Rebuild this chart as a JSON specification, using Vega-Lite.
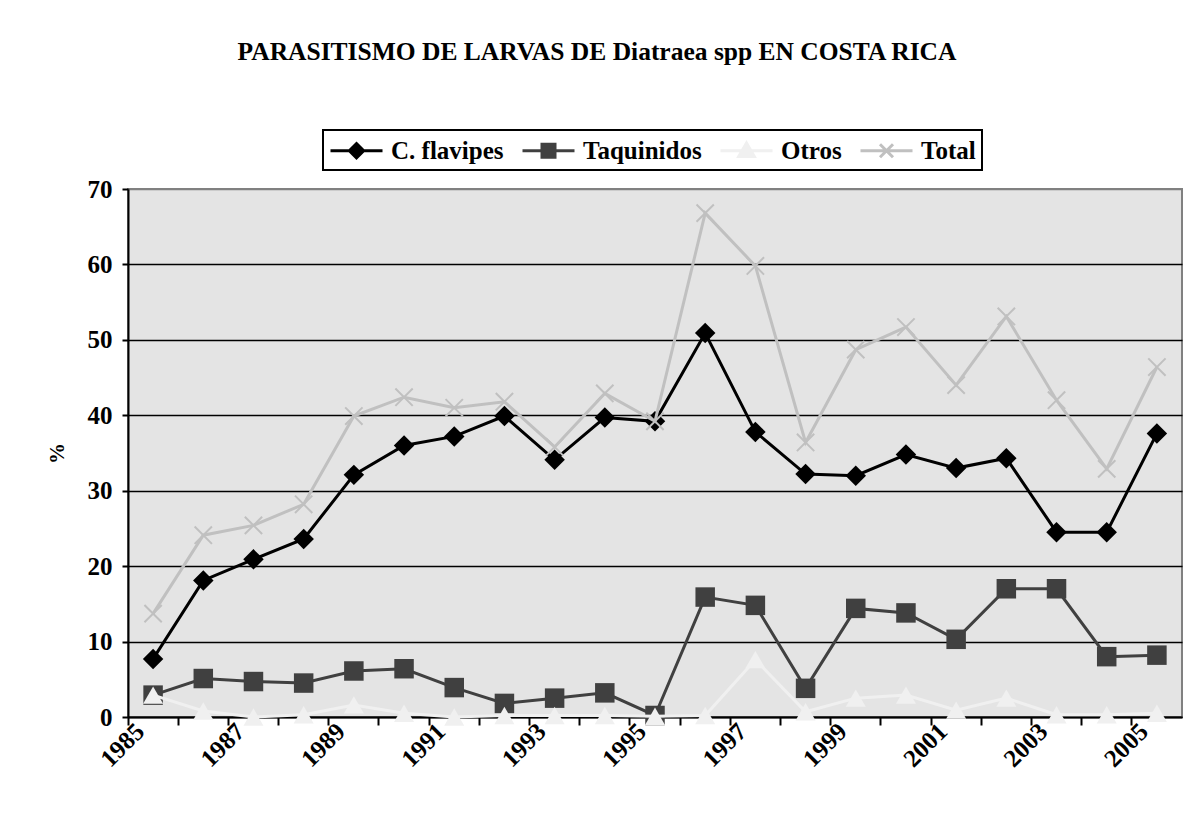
{
  "$schema": "https://vega.github.io/schema/vega-lite/v6.json",
  "width": 1054,
  "height": 528,
  "autosize": {"type": "none"},
  "padding": {"left": 128, "top": 189, "right": 14, "bottom": 108},
  "background": "white",
  "title": {
    "text": "PARASITISMO DE LARVAS DE Diatraea spp EN COSTA RICA",
    "font": "Liberation Serif",
    "fontSize": 25.5,
    "fontWeight": "bold",
    "color": "black",
    "anchor": "middle",
    "frame": "group",
    "offset": 64,
    "dx": -58
  },
  "config": {
    "view": {"fill": "#e4e4e4", "stroke": "#808080", "strokeWidth": 2}
  },
  "data": {
    "values": [
      {"year": 1985, "series": "C. flavipes", "value": 7.7},
      {"year": 1986, "series": "C. flavipes", "value": 18.1},
      {"year": 1987, "series": "C. flavipes", "value": 20.9},
      {"year": 1988, "series": "C. flavipes", "value": 23.6},
      {"year": 1989, "series": "C. flavipes", "value": 32.1},
      {"year": 1990, "series": "C. flavipes", "value": 36.0},
      {"year": 1991, "series": "C. flavipes", "value": 37.2},
      {"year": 1992, "series": "C. flavipes", "value": 39.9},
      {"year": 1993, "series": "C. flavipes", "value": 34.1},
      {"year": 1994, "series": "C. flavipes", "value": 39.7},
      {"year": 1995, "series": "C. flavipes", "value": 39.2},
      {"year": 1996, "series": "C. flavipes", "value": 50.9},
      {"year": 1997, "series": "C. flavipes", "value": 37.8},
      {"year": 1998, "series": "C. flavipes", "value": 32.2},
      {"year": 1999, "series": "C. flavipes", "value": 32.0},
      {"year": 2000, "series": "C. flavipes", "value": 34.8},
      {"year": 2001, "series": "C. flavipes", "value": 33.0},
      {"year": 2002, "series": "C. flavipes", "value": 34.3},
      {"year": 2003, "series": "C. flavipes", "value": 24.5},
      {"year": 2004, "series": "C. flavipes", "value": 24.5},
      {"year": 2005, "series": "C. flavipes", "value": 37.6},
      {"year": 1985, "series": "Taquinidos", "value": 2.9},
      {"year": 1986, "series": "Taquinidos", "value": 5.1},
      {"year": 1987, "series": "Taquinidos", "value": 4.7},
      {"year": 1988, "series": "Taquinidos", "value": 4.5},
      {"year": 1989, "series": "Taquinidos", "value": 6.1},
      {"year": 1990, "series": "Taquinidos", "value": 6.4},
      {"year": 1991, "series": "Taquinidos", "value": 3.9},
      {"year": 1992, "series": "Taquinidos", "value": 1.8},
      {"year": 1993, "series": "Taquinidos", "value": 2.5},
      {"year": 1994, "series": "Taquinidos", "value": 3.2},
      {"year": 1995, "series": "Taquinidos", "value": 0.2},
      {"year": 1996, "series": "Taquinidos", "value": 15.9},
      {"year": 1997, "series": "Taquinidos", "value": 14.8},
      {"year": 1998, "series": "Taquinidos", "value": 3.8},
      {"year": 1999, "series": "Taquinidos", "value": 14.4},
      {"year": 2000, "series": "Taquinidos", "value": 13.8},
      {"year": 2001, "series": "Taquinidos", "value": 10.3},
      {"year": 2002, "series": "Taquinidos", "value": 17.0},
      {"year": 2003, "series": "Taquinidos", "value": 17.0},
      {"year": 2004, "series": "Taquinidos", "value": 8.0},
      {"year": 2005, "series": "Taquinidos", "value": 8.2},
      {"year": 1985, "series": "Otros", "value": 2.9},
      {"year": 1986, "series": "Otros", "value": 0.8},
      {"year": 1987, "series": "Otros", "value": 0.0},
      {"year": 1988, "series": "Otros", "value": 0.3},
      {"year": 1989, "series": "Otros", "value": 1.6},
      {"year": 1990, "series": "Otros", "value": 0.5},
      {"year": 1991, "series": "Otros", "value": 0.0},
      {"year": 1992, "series": "Otros", "value": 0.2},
      {"year": 1993, "series": "Otros", "value": 0.2},
      {"year": 1994, "series": "Otros", "value": 0.2},
      {"year": 1995, "series": "Otros", "value": 0.1},
      {"year": 1996, "series": "Otros", "value": 0.2},
      {"year": 1997, "series": "Otros", "value": 7.6},
      {"year": 1998, "series": "Otros", "value": 0.7},
      {"year": 1999, "series": "Otros", "value": 2.5},
      {"year": 2000, "series": "Otros", "value": 2.9},
      {"year": 2001, "series": "Otros", "value": 0.9},
      {"year": 2002, "series": "Otros", "value": 2.5},
      {"year": 2003, "series": "Otros", "value": 0.3},
      {"year": 2004, "series": "Otros", "value": 0.3},
      {"year": 2005, "series": "Otros", "value": 0.5},
      {"year": 1985, "series": "Total", "value": 13.7},
      {"year": 1986, "series": "Total", "value": 24.1},
      {"year": 1987, "series": "Total", "value": 25.4},
      {"year": 1988, "series": "Total", "value": 28.2},
      {"year": 1989, "series": "Total", "value": 39.9},
      {"year": 1990, "series": "Total", "value": 42.4},
      {"year": 1991, "series": "Total", "value": 41.0},
      {"year": 1992, "series": "Total", "value": 41.8},
      {"year": 1993, "series": "Total", "value": 35.8},
      {"year": 1994, "series": "Total", "value": 42.9},
      {"year": 1995, "series": "Total", "value": 39.2},
      {"year": 1996, "series": "Total", "value": 66.8},
      {"year": 1997, "series": "Total", "value": 59.8},
      {"year": 1998, "series": "Total", "value": 36.4},
      {"year": 1999, "series": "Total", "value": 48.7},
      {"year": 2000, "series": "Total", "value": 51.7},
      {"year": 2001, "series": "Total", "value": 44.0},
      {"year": 2002, "series": "Total", "value": 53.1},
      {"year": 2003, "series": "Total", "value": 42.0},
      {"year": 2004, "series": "Total", "value": 32.9},
      {"year": 2005, "series": "Total", "value": 46.4}
    ]
  },
  "encoding": {
    "x": {
      "field": "year",
      "type": "ordinal",
      "scale": {"type": "band", "paddingInner": 0, "paddingOuter": 0},
      "axis": {
        "title": null,
        "bandPosition": 0,
        "grid": false,
        "domainColor": "black",
        "domainWidth": 2,
        "tickColor": "black",
        "tickWidth": 2,
        "tickSize": 8,
        "labelAngle": -45,
        "labelAlign": "right",
        "labelBaseline": "middle",
        "labelFont": "Liberation Serif",
        "labelFontSize": 25,
        "labelFontWeight": "bold",
        "labelColor": "black",
        "labelPadding": 2,
        "labelOffset": -13,
        "labelOverlap": false,
        "labelBound": false,
        "labelFlush": false,
        "labelExpr": "(datum.value - 1985) % 2 == 0 ? datum.label : ''"
      }
    },
    "y": {
      "field": "value",
      "type": "quantitative",
      "scale": {"domain": [0, 70], "nice": false},
      "axis": {
        "title": "%",
        "titleFont": "Liberation Serif",
        "titleFontSize": 21,
        "titleFontWeight": "bold",
        "titleColor": "black",
        "titlePadding": 20,
        "values": [0, 10, 20, 30, 40, 50, 60, 70],
        "domainColor": "black",
        "domainWidth": 2,
        "tickColor": "black",
        "tickWidth": 2,
        "tickSize": 6,
        "labelFont": "Liberation Serif",
        "labelFontSize": 25,
        "labelFontWeight": "bold",
        "labelColor": "black",
        "labelPadding": 10,
        "grid": true,
        "gridColor": {"condition": {"test": "datum.value === 70", "value": "#808080"}, "value": "#000000"},
        "gridWidth": 1.5
      }
    },
    "color": {
      "field": "series",
      "type": "nominal",
      "scale": {
        "domain": ["C. flavipes", "Taquinidos", "Otros", "Total"],
        "range": ["#000000", "#404040", "#f0f0f0", "#c0c0c0"]
      },
      "legend": {
        "title": null,
        "orient": "none",
        "legendX": 195,
        "legendY": -59,
        "direction": "horizontal",
        "labelFont": "Liberation Serif",
        "labelFontSize": 25,
        "labelFontWeight": "bold",
        "labelColor": "black",
        "symbolSize": 676,
        "labelOffset": 33,
        "columnPadding": 12,
        "padding": 6,
        "strokeColor": "black",
        "fillColor": "white",
        "encode": {
          "legend": {"update": {"strokeWidth": {"value": 2}}},
          "symbols": {
            "update": {
              "shape": {"signal": "datum.value === 'C. flavipes' ? 'M-1,0H3M1,-0.55L1.55,0L1,0.55L0.45,0Z' : datum.value === 'Taquinidos' ? 'M-1,0H3M0.5,-0.5H1.5V0.5H0.5Z' : datum.value === 'Otros' ? 'M-1,0H3M1,-0.6L1.6,0.45L0.4,0.45Z' : 'M-1,0H3M0.5,-0.5L1.5,0.5M0.5,0.5L1.5,-0.5'"},
              "fill": {"signal": "scale('color', datum.value)"},
              "stroke": {"signal": "scale('color', datum.value)"},
              "strokeWidth": {"value": 3},
              "opacity": {"value": 1}
            }
          }
        }
      }
    }
  },
  "layer": [
    {
      "transform": [{"filter": "datum.series === 'C. flavipes'"}],
      "mark": {"type": "line", "strokeWidth": 3, "point": {"shape": "diamond", "size": 420, "filled": true}}
    },
    {
      "transform": [{"filter": "datum.series === 'Taquinidos'"}],
      "mark": {"type": "line", "strokeWidth": 3, "point": {"shape": "square", "size": 380, "filled": true}}
    },
    {
      "transform": [{"filter": "datum.series === 'Otros'"}],
      "mark": {"type": "line", "strokeWidth": 3, "point": {"shape": "triangle-up", "size": 400, "filled": true}}
    },
    {
      "transform": [{"filter": "datum.series === 'Total'"}],
      "mark": {"type": "line", "strokeWidth": 3, "point": {"shape": "M-1,-1L1,1M-1,1L1,-1", "size": 300, "filled": false, "strokeWidth": 2}}
    }
  ]
}
